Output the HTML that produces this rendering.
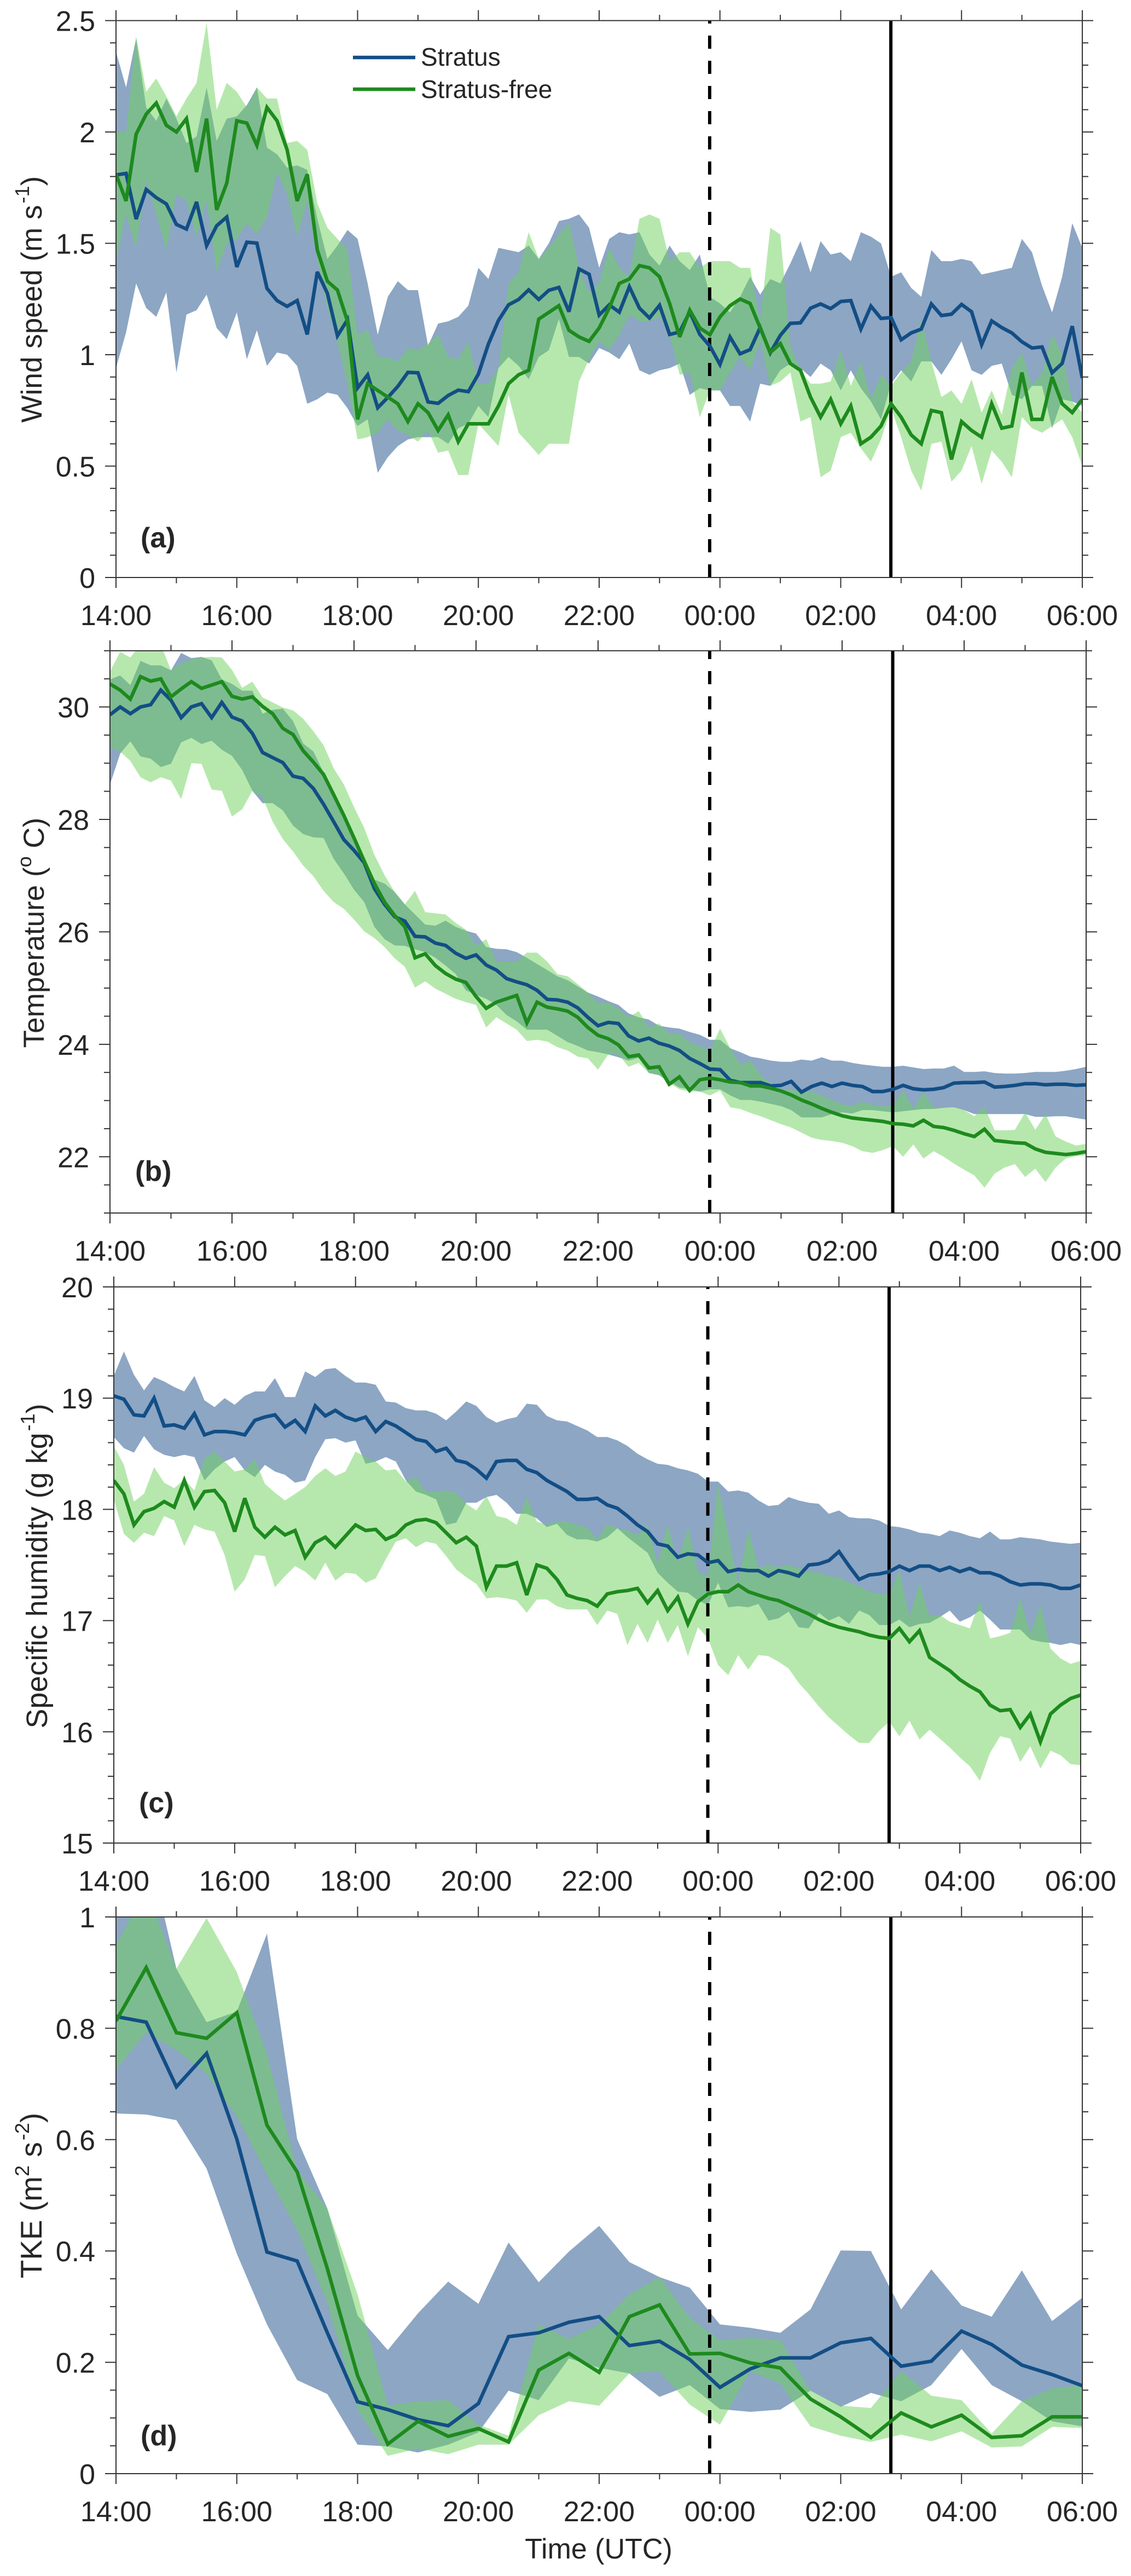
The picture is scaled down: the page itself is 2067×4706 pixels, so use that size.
<!DOCTYPE html>
<html lang="en">
<head>
<meta charset="utf-8">
<title>Wind speed, temperature, specific humidity and TKE: stratus vs stratus-free</title>
<style>
html,body{margin:0;padding:0;background:#fff;}
svg{display:block;}
text{font-family:"Liberation Sans",Arial,sans-serif;fill:#262626;}
</style>
</head>
<body>
<svg id="chart" xmlns="http://www.w3.org/2000/svg" width="2067" height="4706" viewBox="0 0 2067 4706">
<rect x="0" y="0" width="2067" height="4706" fill="#ffffff"/>
<g id="plots"></g>

<g>
<text font-size="53" transform="translate(76 547) rotate(-90)" text-anchor="middle">Wind speed (m s<tspan dy="-23" dx="3" font-size="36">-1</tspan><tspan dy="23">)</tspan></text>
<text font-size="53" transform="translate(80 1704) rotate(-90)" text-anchor="middle">Temperature (<tspan dy="-23" font-size="36">o</tspan><tspan dy="23"> C)</tspan></text>
<text font-size="54" transform="translate(86 2861) rotate(-90)" text-anchor="middle">Specific humidity (g kg<tspan dy="-23" dx="3" font-size="36">-1</tspan><tspan dy="23">)</tspan></text>
<text font-size="55" transform="translate(76 4011) rotate(-90)" text-anchor="middle">TKE (m<tspan dy="-23" font-size="36">2</tspan><tspan dy="23"> s</tspan><tspan dy="-23" dx="3" font-size="36">-2</tspan><tspan dy="23">)</tspan></text>
</g>

<g font-size="52" font-weight="bold">
<text x="257" y="1000" fill="#000">(a)</text>
<text x="247" y="2157" fill="#000">(b)</text>
<text x="254" y="3311" fill="#000">(c)</text>
<text x="257" y="4467" fill="#000">(d)</text>
</g>

<g>
<g>
<line x1="645" x2="759" y1="105" y2="105" stroke="#134e85" stroke-width="6.5"/>
<text x="769" y="120" font-size="46">Stratus</text>
</g>
<g>
<line x1="645" x2="759" y1="163" y2="163" stroke="#1e8a1e" stroke-width="6.5"/>
<text x="769" y="179" font-size="46">Stratus-free</text>
</g>
</g>

<text x="1094" y="4674" font-size="52" text-anchor="middle">Time (UTC)</text>
</svg>

<script>
/* ---------- shared axis data ---------- */
const hourTicks = [0,2,4,6,8,10,12,14,16];
const hourTickLabels = ['14:00','16:00','18:00','20:00','22:00','00:00','02:00','04:00','06:00'];
const hourMinorTicks = [1,3,5,7,9,11,13,15];
const eventDashedHour = 9.83;
const eventSolidHour = 12.83;

/* ---------- panel (a) wind speed, m/s, 10-min samples ---------- */
const windTicks = [0,0.5,1,1.5,2,2.5];
const windTickLabels = ['0','0.5','1','1.5','2','2.5'];
const windStratusMean = [
1.807,1.814,1.609,1.742,1.705,1.677,1.585,1.564,1.686,1.490,
1.579,1.618,1.394,1.505,1.501,1.298,1.243,1.217,1.243,1.091,
1.372,1.276,1.085,1.157,0.851,0.910,0.762,0.808,0.858,0.921,
0.919,0.788,0.782,0.817,0.841,0.834,0.913,1.048,1.154,1.224,
1.248,1.291,1.248,1.289,1.302,1.193,1.385,1.361,1.178,1.224,
1.191,1.305,1.209,1.165,1.222,1.091,1.102,1.193,1.091,1.039,
0.956,1.080,1.004,1.023,1.122,1.008,1.087,1.141,1.143,1.209,
1.228,1.207,1.239,1.243,1.115,1.218,1.163,1.167,1.067,1.098,
1.115,1.228,1.176,1.182,1.226,1.193,1.045,1.152,1.122,1.098,
1.058,1.030,1.035,0.919,0.961,1.128,0.895];
const windStratusHigh = [
2.36,2.20,2.42,2.11,2.05,2.15,2.06,1.95,1.98,2.20,
1.96,2.06,2.07,2.12,2.20,1.93,1.90,1.84,1.85,1.83,
1.61,1.43,1.49,1.56,1.52,1.32,1.09,1.26,1.33,1.29,
1.29,1.04,1.14,1.15,1.17,1.22,1.39,1.34,1.48,1.47,
1.46,1.49,1.43,1.50,1.60,1.61,1.63,1.57,1.39,1.52,
1.55,1.54,1.55,1.45,1.40,1.49,1.42,1.38,1.45,1.26,
1.23,1.19,1.26,1.35,1.27,1.34,1.32,1.41,1.51,1.37,
1.51,1.45,1.46,1.42,1.55,1.53,1.50,1.35,1.37,1.30,
1.26,1.47,1.42,1.42,1.43,1.42,1.36,1.37,1.38,1.39,
1.52,1.46,1.31,1.19,1.35,1.59,1.48];
const windStratusLow = [
0.94,1.10,1.32,1.21,1.17,1.28,0.92,1.18,1.20,1.27,
1.12,1.07,1.19,0.98,1.11,0.95,1.01,1.00,0.95,0.78,
0.80,0.83,0.82,0.76,0.68,0.71,0.47,0.54,0.59,0.62,
0.63,0.63,0.63,0.60,0.67,0.69,0.77,0.72,0.94,0.99,
0.95,0.89,0.99,1.02,1.16,0.99,0.99,0.96,1.03,1.01,
0.98,1.05,0.93,0.91,0.93,0.94,0.96,0.82,0.85,0.84,
0.84,0.77,0.77,0.70,0.87,0.86,0.93,0.96,0.94,0.90,
0.96,0.93,0.84,0.93,0.85,0.79,0.71,0.87,0.93,0.88,
0.97,0.97,0.91,0.98,1.06,0.93,0.91,0.95,0.96,0.82,
0.80,0.86,0.86,0.67,0.80,0.79,0.77];
const windFreeMean = [
1.81,1.69,1.99,2.08,2.13,2.03,2.00,2.06,1.82,2.06,
1.65,1.77,2.05,2.04,1.94,2.11,2.05,1.92,1.69,1.81,
1.47,1.33,1.29,1.15,0.71,0.87,0.84,0.81,0.78,0.70,
0.78,0.74,0.66,0.73,0.61,0.69,0.69,0.69,0.77,0.87,
0.91,0.93,1.16,1.19,1.22,1.11,1.08,1.06,1.12,1.21,
1.32,1.34,1.40,1.39,1.35,1.23,1.08,1.20,1.12,1.09,
1.17,1.22,1.25,1.23,1.12,1.01,1.05,0.96,0.93,0.81,
0.72,0.80,0.69,0.77,0.60,0.63,0.68,0.78,0.72,0.64,
0.60,0.75,0.74,0.53,0.70,0.66,0.63,0.78,0.67,0.68,
0.92,0.71,0.71,0.90,0.78,0.74,0.80];
const windFreeHigh = [
2.00,2.00,2.43,2.18,2.24,2.16,2.07,2.15,2.22,2.49,
2.10,2.22,2.18,2.11,2.20,2.15,2.15,1.95,1.96,1.92,
1.68,1.57,1.52,1.47,1.09,1.11,0.99,0.99,0.97,1.03,
1.02,1.05,1.09,0.99,0.98,1.06,0.87,0.87,0.94,1.32,
1.37,1.55,1.43,1.48,1.54,1.59,1.39,1.28,1.32,1.48,
1.39,1.35,1.61,1.63,1.61,1.42,1.46,1.46,1.39,1.42,
1.42,1.42,1.39,1.39,1.15,1.57,1.54,1.04,0.93,0.87,
0.87,0.88,1.02,0.86,0.97,0.80,0.91,0.86,0.92,0.97,
1.16,0.97,0.81,0.84,0.78,0.89,0.74,0.84,0.73,0.94,
1.01,0.86,0.92,1.09,1.00,0.79,0.74];
const windFreeLow = [
1.42,1.63,1.48,1.78,1.63,1.47,1.72,1.69,1.53,1.69,
1.37,1.50,1.52,1.59,1.54,1.62,1.82,1.72,1.53,1.69,
1.43,1.21,1.06,0.86,0.62,0.63,0.65,0.71,0.66,0.64,
0.61,0.66,0.56,0.57,0.46,0.46,0.69,0.64,0.59,0.82,
0.65,0.60,0.55,0.60,0.60,0.60,0.88,0.98,1.06,1.02,
1.09,1.18,1.15,1.15,1.17,1.09,0.91,0.92,0.72,0.84,
0.84,0.92,0.99,0.93,1.06,0.86,0.88,0.92,0.70,0.72,
0.45,0.48,0.63,0.65,0.58,0.52,0.62,0.76,0.63,0.48,
0.39,0.60,0.61,0.43,0.48,0.59,0.42,0.57,0.52,0.45,
0.72,0.67,0.65,0.68,0.71,0.63,0.50];

/* ---------- panel (b) temperature, deg C, 10-min samples ---------- */
const tempTicks = [22,24,26,28,30];
const tempTickLabels = ['22','24','26','28','30'];
const tempStratusMean = [
29.86,30.00,29.88,30.00,30.04,30.30,30.12,29.81,30.00,30.06,
29.81,30.08,29.82,29.75,29.53,29.19,29.10,29.01,28.77,28.73,
28.55,28.27,27.96,27.64,27.45,27.23,26.77,26.49,26.27,26.19,
25.92,25.91,25.80,25.76,25.62,25.53,25.59,25.41,25.32,25.17,
25.11,25.06,24.96,24.80,24.79,24.75,24.65,24.48,24.33,24.39,
24.37,24.15,24.06,24.11,24.02,23.97,23.89,23.75,23.66,23.56,
23.55,23.36,23.32,23.32,23.32,23.26,23.27,23.34,23.15,23.25,
23.31,23.25,23.31,23.27,23.25,23.16,23.16,23.20,23.27,23.21,
23.19,23.20,23.23,23.31,23.32,23.32,23.33,23.24,23.25,23.27,
23.30,23.30,23.28,23.29,23.29,23.27,23.28];
const tempStratusHigh = [
30.49,30.56,30.39,30.82,30.74,30.74,30.65,30.96,30.87,30.89,
30.83,30.49,30.41,30.29,30.29,29.88,29.95,29.97,29.75,29.35,
29.21,28.84,28.47,28.11,27.67,27.30,26.93,26.86,26.71,26.49,
26.31,26.13,26.11,26.20,26.09,26.02,25.97,25.73,25.70,25.69,
25.64,25.54,25.43,25.32,25.21,25.14,25.03,24.92,24.85,24.77,
24.70,24.55,24.48,24.44,24.33,24.30,24.28,24.22,24.17,24.08,
24.08,23.93,23.86,23.78,23.75,23.71,23.69,23.69,23.73,23.71,
23.77,23.71,23.71,23.67,23.64,23.62,23.60,23.60,23.62,23.59,
23.56,23.57,23.57,23.62,23.51,23.51,23.52,23.49,23.48,23.48,
23.49,23.51,23.51,23.51,23.53,23.56,23.60];
const tempStratusLow = [
28.62,29.17,29.39,29.12,29.08,28.93,28.99,29.37,29.45,29.34,
29.40,29.24,29.13,28.88,28.51,28.29,28.29,28.16,27.89,27.74,
27.68,27.67,27.30,27.04,26.75,26.53,26.09,25.87,25.76,25.75,
25.69,25.64,25.54,25.40,25.25,24.96,24.88,24.81,24.70,24.52,
24.41,24.26,24.26,24.26,24.15,24.04,23.97,23.89,23.86,23.82,
23.77,23.71,23.76,23.49,23.45,23.34,23.23,23.20,23.16,23.20,
23.20,23.09,23.01,23.01,22.98,22.94,22.90,22.83,22.70,22.70,
22.70,22.76,22.79,22.77,22.83,22.83,22.81,22.79,22.81,22.83,
22.85,22.85,22.87,22.88,22.83,22.76,22.76,22.76,22.76,22.76,
22.76,22.71,22.71,22.72,22.72,22.69,22.66];
const tempFreeMean = [
30.41,30.30,30.14,30.54,30.46,30.50,30.18,30.32,30.45,30.33,
30.39,30.45,30.19,30.14,30.18,30.01,29.88,29.62,29.51,29.22,
29.02,28.80,28.44,28.07,27.67,27.26,26.86,26.53,26.29,26.09,
25.54,25.61,25.40,25.26,25.16,25.10,24.85,24.64,24.75,24.81,
24.87,24.38,24.75,24.66,24.63,24.59,24.48,24.30,24.16,24.10,
23.99,23.78,23.81,23.58,23.60,23.29,23.42,23.18,23.37,23.40,
23.37,23.33,23.32,23.26,23.26,23.22,23.17,23.10,23.01,22.94,
22.86,22.79,22.73,22.69,22.67,22.65,22.63,22.59,22.58,22.55,
22.65,22.54,22.52,22.47,22.41,22.36,22.49,22.29,22.27,22.25,
22.24,22.14,22.08,22.06,22.04,22.06,22.09];
const tempFreeHigh = [
30.63,30.98,30.88,31.11,31.11,31.11,30.65,30.78,30.85,30.88,
30.89,30.88,30.66,30.34,30.45,30.17,30.08,29.99,29.94,29.79,
29.57,29.32,28.91,28.62,28.22,27.85,27.37,27.01,26.71,26.49,
26.73,26.35,26.33,26.31,26.16,26.04,25.76,25.87,25.47,25.47,
25.47,25.63,25.63,25.47,25.25,25.21,25.07,24.92,24.74,24.74,
24.63,24.48,24.59,24.30,24.37,24.19,24.19,24.04,23.97,23.89,
24.28,23.93,23.64,23.71,23.45,23.31,23.20,23.20,23.16,23.16,
23.09,23.01,22.94,22.90,22.98,22.92,22.90,22.90,23.18,22.85,
23.15,22.87,22.87,22.88,22.83,22.72,22.89,22.47,22.47,22.48,
22.79,22.48,22.76,22.36,22.27,22.20,22.23];
const tempFreeLow = [
29.28,29.21,29.04,28.75,28.66,28.75,28.69,28.36,29.00,28.99,
28.53,28.51,28.05,28.18,28.51,28.40,27.96,27.65,27.43,27.18,
26.99,26.73,26.53,26.41,26.22,26.01,25.89,25.73,25.53,25.38,
25.01,25.12,24.99,24.90,24.81,24.75,24.70,24.30,24.48,24.37,
24.26,24.06,24.08,24.05,23.95,23.89,23.78,23.75,23.55,23.82,
23.82,23.60,23.67,23.49,23.45,23.31,23.20,23.16,23.16,23.09,
23.18,22.88,22.85,22.78,22.72,22.65,22.58,22.52,22.43,22.34,
22.30,22.28,22.25,22.19,22.10,22.07,22.12,22.19,22.00,22.22,
21.97,22.10,22.00,21.88,21.77,21.67,21.45,21.70,21.81,21.87,
21.64,21.79,21.55,21.81,21.97,22.01,22.03];

/* ---------- panel (c) specific humidity, g/kg, 10-min samples ---------- */
const humTicks = [15,16,17,18,19,20];
const humTickLabels = ['15','16','17','18','19','20'];
const humStratusMean = [
19.02,18.99,18.85,18.84,19.00,18.75,18.76,18.73,18.86,18.67,
18.70,18.70,18.69,18.67,18.80,18.83,18.85,18.74,18.80,18.70,
18.93,18.84,18.89,18.83,18.80,18.83,18.70,18.79,18.75,18.69,
18.63,18.61,18.52,18.55,18.44,18.42,18.36,18.28,18.43,18.44,
18.44,18.36,18.33,18.26,18.21,18.16,18.09,18.09,18.10,18.04,
18.01,17.94,17.86,17.80,17.69,17.67,17.57,17.60,17.59,17.52,
17.54,17.44,17.46,17.45,17.45,17.40,17.45,17.43,17.40,17.50,
17.51,17.54,17.62,17.49,17.37,17.41,17.42,17.44,17.49,17.45,
17.49,17.49,17.45,17.48,17.44,17.47,17.43,17.43,17.40,17.35,
17.32,17.33,17.33,17.32,17.29,17.29,17.32];
const humStratusHigh = [
19.20,19.42,19.21,19.07,19.19,19.15,19.10,19.06,19.20,18.98,
18.92,19.00,18.94,19.02,19.06,19.06,19.18,19.01,19.01,19.24,
19.19,19.26,19.27,19.20,19.14,19.14,19.12,18.97,18.96,18.91,
18.89,18.89,18.86,18.80,18.88,18.97,18.93,18.83,18.78,18.81,
18.83,18.95,18.94,18.84,18.80,18.79,18.75,18.71,18.65,18.65,
18.62,18.57,18.50,18.45,18.41,18.40,18.37,18.35,18.32,18.25,
18.25,18.16,18.17,18.15,18.08,18.03,18.04,18.11,18.08,18.06,
18.05,17.96,17.99,17.93,17.92,17.92,17.90,17.85,17.84,17.82,
17.79,17.78,17.76,17.81,17.79,17.76,17.74,17.80,17.73,17.73,
17.75,17.74,17.73,17.71,17.70,17.69,17.70];
const humStratusLow = [
18.65,18.55,18.51,18.66,18.54,18.49,18.47,18.49,18.47,18.26,
18.36,18.43,18.47,18.35,18.29,18.40,18.34,18.31,18.24,18.26,
18.47,18.63,18.64,18.60,18.62,18.41,18.43,18.47,18.43,18.26,
18.16,18.13,18.09,17.86,17.88,18.06,18.06,18.11,18.13,18.06,
17.96,17.96,17.92,17.84,17.87,17.77,17.73,17.73,17.71,17.75,
17.83,17.75,17.68,17.61,17.43,17.34,17.26,17.25,17.18,17.14,
17.34,17.12,17.13,17.12,17.15,17.00,17.02,17.08,16.94,16.93,
17.07,17.00,17.04,16.97,17.09,17.05,16.96,16.96,17.01,16.94,
16.97,16.98,17.03,17.09,16.99,17.03,17.09,17.01,16.92,16.92,
16.92,16.83,16.81,16.80,16.78,16.80,16.78];
const humFreeMean = [
18.26,18.14,17.86,17.98,18.01,18.07,18.02,18.26,18.02,18.16,
18.17,18.06,17.80,18.10,17.84,17.75,17.84,17.77,17.81,17.57,
17.70,17.75,17.66,17.76,17.86,17.81,17.82,17.73,17.77,17.86,
17.90,17.91,17.88,17.79,17.70,17.75,17.67,17.30,17.49,17.49,
17.52,17.23,17.50,17.47,17.37,17.23,17.20,17.18,17.13,17.24,
17.26,17.27,17.29,17.16,17.27,17.09,17.21,16.97,17.17,17.24,
17.26,17.26,17.32,17.26,17.23,17.20,17.18,17.14,17.10,17.06,
17.01,16.97,16.94,16.92,16.90,16.87,16.85,16.84,16.93,16.81,
16.91,16.67,16.61,16.55,16.47,16.41,16.36,16.24,16.19,16.20,
16.04,16.16,15.91,16.16,16.24,16.30,16.33];
const humFreeHigh = [
18.57,18.40,18.07,18.14,18.38,18.24,18.19,18.27,18.17,18.46,
18.52,18.43,18.34,18.36,18.45,18.23,18.15,18.08,18.14,18.20,
18.30,18.37,18.30,18.34,18.52,18.47,18.43,18.35,18.36,18.25,
18.29,18.16,18.16,18.17,18.15,18.05,17.99,18.12,17.94,17.92,
17.86,18.11,17.89,17.86,17.89,17.89,17.86,17.84,17.73,17.87,
17.83,17.81,17.77,17.86,17.51,17.87,17.51,17.84,17.43,17.40,
18.23,17.77,17.34,17.82,17.47,17.50,17.48,17.50,17.47,17.44,
17.43,17.40,17.39,17.34,17.31,17.26,17.24,17.23,17.45,17.03,
17.34,17.04,17.05,16.99,16.96,16.93,17.18,16.84,16.86,16.89,
17.20,16.88,17.14,16.75,16.66,16.61,16.64];
const humFreeLow = [
18.09,17.78,17.70,17.79,17.76,17.94,17.90,17.67,17.86,17.82,
17.80,17.59,17.26,17.37,17.59,17.58,17.30,17.40,17.49,17.44,
17.36,17.52,17.36,17.43,17.42,17.34,17.38,17.55,17.71,17.74,
17.66,17.71,17.69,17.58,17.46,17.39,17.33,17.20,17.21,17.20,
17.18,17.07,17.19,17.19,17.13,17.10,17.10,17.10,16.96,17.09,
17.06,16.78,16.97,16.80,17.01,16.80,16.96,16.68,16.94,16.84,
16.60,16.51,16.69,16.56,16.69,16.68,16.63,16.57,16.44,16.34,
16.23,16.13,16.05,15.97,15.90,15.90,16.01,16.09,15.96,16.10,
15.93,16.02,15.94,15.86,15.77,15.69,15.56,15.81,15.96,15.94,
15.73,15.87,15.67,15.83,15.79,15.71,15.70];

/* ---------- panel (d) TKE, m2/s2, 30-min samples ---------- */
const tkeTicks = [0,0.2,0.4,0.6,0.8,1];
const tkeTickLabels = ['0','0.2','0.4','0.6','0.8','1'];
const tkeStratusMean = [
0.821,0.811,0.695,0.755,0.601,0.398,0.382,0.253,0.129,0.115,0.097,
0.086,0.126,0.246,0.253,0.272,0.282,0.230,0.238,0.205,0.155,0.188,
0.208,0.208,0.235,0.243,0.193,0.202,0.256,0.232,0.195,0.178,0.158];
const tkeStratusHigh = [
1.10,1.14,0.907,0.811,0.830,0.970,0.601,0.476,0.284,0.222,0.288,
0.345,0.305,0.415,0.344,0.399,0.445,0.380,0.353,0.334,0.268,0.262,
0.253,0.295,0.401,0.400,0.295,0.367,0.302,0.282,0.365,0.274,0.316];
const tkeStratusLow = [
0.647,0.645,0.635,0.548,0.395,0.268,0.168,0.143,0.052,0.049,0.038,
0.052,0.074,0.149,0.132,0.207,0.190,0.180,0.138,0.159,0.116,0.111,
0.115,0.149,0.120,0.145,0.130,0.159,0.224,0.159,0.130,0.094,0.085];
const tkeFreeMean = [
0.813,0.909,0.792,0.782,0.828,0.626,0.542,0.368,0.176,0.053,0.094,
0.067,0.081,0.057,0.186,0.216,0.182,0.282,0.303,0.215,0.216,0.199,
0.190,0.134,0.102,0.065,0.109,0.084,0.105,0.065,0.068,0.102,0.102];
const tkeFreeHigh = [
0.949,1.05,0.907,0.998,0.901,0.753,0.545,0.476,0.322,0.122,0.130,
0.132,0.088,0.068,0.268,0.242,0.268,0.322,0.353,0.280,0.239,0.244,
0.240,0.149,0.122,0.118,0.184,0.140,0.132,0.072,0.130,0.153,0.159];
const tkeFreeLow = [
0.726,0.793,0.761,0.718,0.642,0.538,0.438,0.307,0.115,0.032,0.045,
0.035,0.052,0.052,0.105,0.130,0.122,0.180,0.184,0.124,0.088,0.184,
0.162,0.085,0.068,0.057,0.070,0.058,0.076,0.047,0.049,0.084,0.082];

/* ---------- panel configuration ---------- */
const panels = [
 {id:'wind', left:212, right:1978, top:37.6, bottom:1055, yMin:0, yMax:2.5, minorStep:0.1, sampleHours:1/6,
  ticks:windTicks, tickLabels:windTickLabels,
  sMean:windStratusMean, sHigh:windStratusHigh, sLow:windStratusLow,
  fMean:windFreeMean, fHigh:windFreeHigh, fLow:windFreeLow},
 {id:'temperature', left:201, right:1985, top:1188.8, bottom:2216, yMin:21, yMax:31, minorStep:0.5, sampleHours:1/6,
  ticks:tempTicks, tickLabels:tempTickLabels,
  sMean:tempStratusMean, sHigh:tempStratusHigh, sLow:tempStratusLow,
  fMean:tempFreeMean, fHigh:tempFreeHigh, fLow:tempFreeLow},
 {id:'humidity', left:208, right:1975, top:2351, bottom:3367, yMin:15, yMax:20, minorStep:0.2, sampleHours:1/6,
  ticks:humTicks, tickLabels:humTickLabels,
  sMean:humStratusMean, sHigh:humStratusHigh, sLow:humStratusLow,
  fMean:humFreeMean, fHigh:humFreeHigh, fLow:humFreeLow},
 {id:'tke', left:212, right:1978, top:3502, bottom:4519, yMin:0, yMax:1, minorStep:0.05, sampleHours:0.5,
  ticks:tkeTicks, tickLabels:tkeTickLabels,
  sMean:tkeStratusMean, sHigh:tkeStratusHigh, sLow:tkeStratusLow,
  fMean:tkeFreeMean, fHigh:tkeFreeHigh, fLow:tkeFreeLow}
];

const SVG_NS = 'http://www.w3.org/2000/svg';
const root = document.getElementById('plots');
const AXIS_COLOR = '#333333';

function make(tag, parent, attrs) {
  const el = document.createElementNS(SVG_NS, tag);
  for (const k in attrs) { el.setAttribute(k, attrs[k]); }
  parent.appendChild(el);
  return el;
}

function drawPanel(p) {
  const xScale = h => p.left + (h / 16) * (p.right - p.left);
  const yScale = v => p.bottom - ((v - p.yMin) / (p.yMax - p.yMin)) * (p.bottom - p.top);

  const g = make('g', root, {});
  
  

  const clip = make('clipPath', g, {id: 'clip-' + p.id});
  
  
  const clipRect = make('rect', clip, {x: p.left, y: p.top, width: p.right - p.left, height: p.bottom - p.top});
  
  

  const marks = make('g', g, {'clip-path': 'url(#clip-' + p.id + ')'});
  
  

  const bandPath = (hi, lo) => {
    const up = hi.map((v, i) => xScale(i * p.sampleHours).toFixed(1) + ' ' + yScale(v).toFixed(1));
    const down = lo.map((v, i) => xScale(i * p.sampleHours).toFixed(1) + ' ' + yScale(v).toFixed(1)).reverse();
    return 'M' + up.concat(down).join('L') + 'Z';
  };
  const linePath = vals => 'M' + vals.map((v, i) => xScale(i * p.sampleHours).toFixed(1) + ' ' + yScale(v).toFixed(1)).join('L');

  const bandS = make('path', marks, {d: bandPath(p.sHigh, p.sLow), fill: '#194d89', 'fill-opacity': 0.5, stroke: 'none'});
  
  

  const bandF = make('path', marks, {d: bandPath(p.fHigh, p.fLow), fill: '#6dd15b', 'fill-opacity': 0.5, stroke: 'none'});
  
  

  const dashed = make('line', marks, {x1: xScale(eventDashedHour), x2: xScale(eventDashedHour), y1: p.bottom, y2: p.top,
    stroke: '#000', 'stroke-width': 6, 'stroke-dasharray': '24 22'});
  
  

  const solid = make('line', marks, {x1: xScale(eventSolidHour), x2: xScale(eventSolidHour), y1: p.bottom, y2: p.top,
    stroke: '#000', 'stroke-width': 6});
  
  

  const lineS = make('path', marks, {d: linePath(p.sMean), fill: 'none', stroke: '#134e85', 'stroke-width': 6.5, 'stroke-linejoin': 'miter', 'stroke-miterlimit': 3});
  
  

  const lineF = make('path', marks, {d: linePath(p.fMean), fill: 'none', stroke: '#1e8a1e', 'stroke-width': 6.5, 'stroke-linejoin': 'miter', 'stroke-miterlimit': 3});
  
  

  const box = make('rect', g, {x: p.left, y: p.top, width: p.right - p.left, height: p.bottom - p.top, fill: 'none', stroke: AXIS_COLOR, 'stroke-width': 2});
  
  

  hourTicks.forEach((h, i) => {
    const x = xScale(h);
    const tb = make('line', g, {x1: x, x2: x, y1: p.bottom, y2: p.bottom + 19, stroke: AXIS_COLOR, 'stroke-width': 2});
    
    
    const tt = make('line', g, {x1: x, x2: x, y1: p.top, y2: p.top - 19, stroke: AXIS_COLOR, 'stroke-width': 2});
    
    
    const lab = make('text', g, {x: x, y: p.bottom + 87, 'font-size': 52, 'text-anchor': 'middle'});
    
    
    lab.textContent = hourTickLabels[i];
  });

  hourMinorTicks.forEach(h => {
    const x = xScale(h);
    const tb = make('line', g, {x1: x, x2: x, y1: p.bottom, y2: p.bottom + 10.5, stroke: AXIS_COLOR, 'stroke-width': 2});
    
    
    const tt = make('line', g, {x1: x, x2: x, y1: p.top, y2: p.top - 10.5, stroke: AXIS_COLOR, 'stroke-width': 2});
    
    
  });

  p.ticks.forEach((v, i) => {
    const y = yScale(v);
    const tl = make('line', g, {x1: p.left - 20, x2: p.left, y1: y, y2: y, stroke: AXIS_COLOR, 'stroke-width': 2});
    
    
    const tr = make('line', g, {x1: p.right, x2: p.right + 20, y1: y, y2: y, stroke: AXIS_COLOR, 'stroke-width': 2});
    
    
    const lab = make('text', g, {x: p.left - 38, y: y + 19, 'font-size': 52, 'text-anchor': 'end'});
    
    
    lab.textContent = p.tickLabels[i];
  });

  const minorCount = Math.round((p.yMax - p.yMin) / p.minorStep);
  for (let k = 0; k <= minorCount; k++) {
    const v = p.yMin + k * p.minorStep;
    if (p.ticks.some(t => Math.abs(t - v) < 1e-6)) { continue; }
    const y = yScale(v);
    const tl = make('line', g, {x1: p.left - 11, x2: p.left, y1: y, y2: y, stroke: AXIS_COLOR, 'stroke-width': 2});
    
    
    const tr = make('line', g, {x1: p.right, x2: p.right + 11, y1: y, y2: y, stroke: AXIS_COLOR, 'stroke-width': 2});
    
    
  }
}

panels.forEach(drawPanel);
</script>
</body>
</html>
